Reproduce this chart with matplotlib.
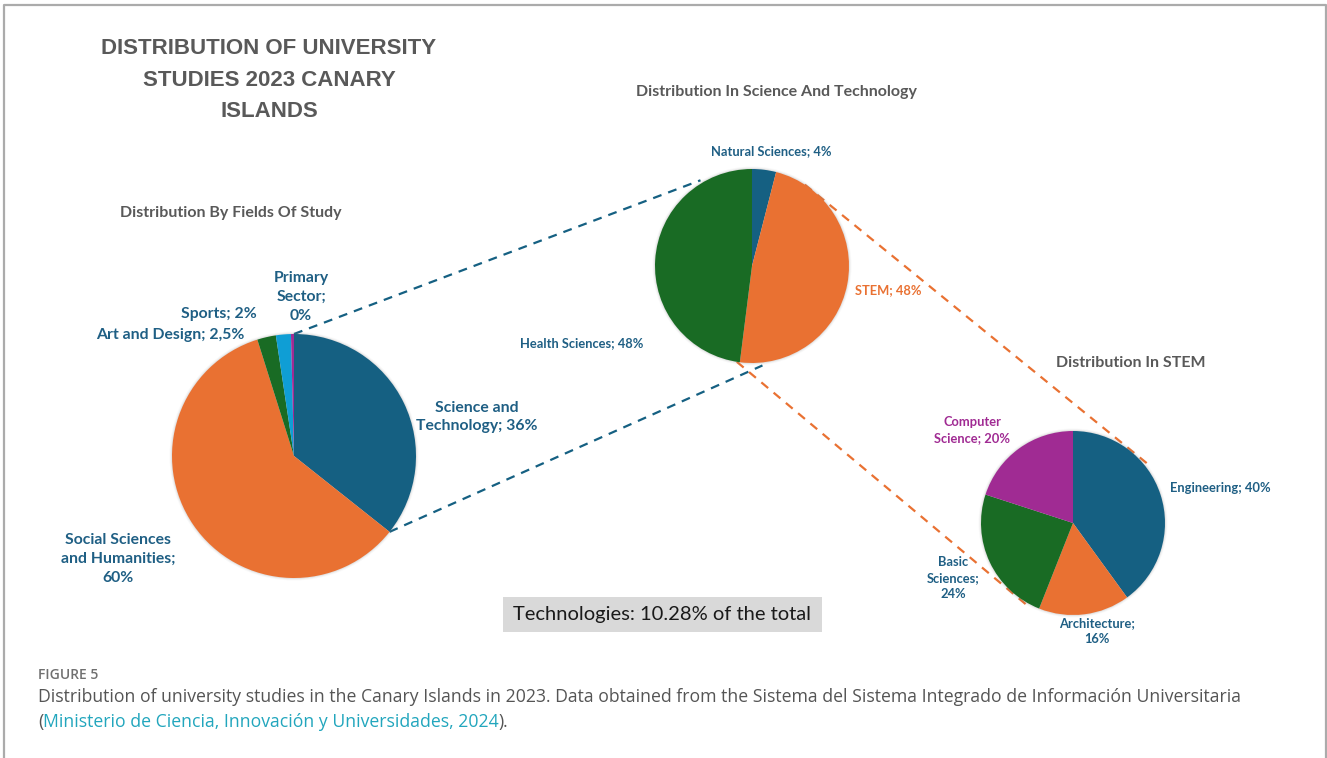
import numpy as np
import matplotlib
matplotlib.use("Agg")
import matplotlib.pyplot as plt
from matplotlib.patches import Rectangle

# ---- data ----
fields = ["Science and\nTechnology", "Social Sciences\nand Humanities", "Art and Design", "Sports", "Primary\nSector"]
fields_pct = [36, 60, 2.5, 2, 0.4]
fields_lbl = ["36%", "60%", "2,5%", "2%", "0%"]

scitech = ["Natural Sciences", "STEM", "Health Sciences"]
scitech_pct = [4, 48, 48]

stem = ["Engineering", "Architecture", "Basic\nSciences", "Computer\nScience"]
stem_pct = [40, 16, 24, 20]

tech_share = 10.28

W, H = 1327, 758
BLUE = "#156082"
ORANGE = "#E97132"
GREEN = "#196B24"
LBLUE = "#0F9ED5"
PURPLE = "#A02B93"
LABEL = "#1F5F84"
GREY = "#595959"

fig = plt.figure(figsize=(W / 100, H / 100), dpi=100)
ax = fig.add_axes([0, 0, 1, 1])


def Y(y):
    return H - y


def pt(c, r, deg):
    a = np.deg2rad(deg)
    return c[0] + r * np.cos(a), c[1] + r * np.sin(a)


# ---- pies ----
c1, r1 = (294, Y(456)), 122
c2, r2 = (752, Y(266)), 97
c3, r3 = (1073, Y(523)), 92

w1, _ = ax.pie(fields_pct, colors=[BLUE, ORANGE, GREEN, LBLUE, PURPLE], startangle=90,
               counterclock=False, center=c1, radius=r1, wedgeprops=dict(linewidth=0), frame=True)
w2, _ = ax.pie(scitech_pct, colors=[BLUE, ORANGE, GREEN], startangle=90,
               counterclock=False, center=c2, radius=r2, wedgeprops=dict(linewidth=0), frame=True)
w3, _ = ax.pie(stem_pct, colors=[BLUE, ORANGE, GREEN, PURPLE], startangle=90,
               counterclock=False, center=c3, radius=r3, wedgeprops=dict(linewidth=0), frame=True)
for w in list(w1) + list(w2) + list(w3):
    w.set_zorder(3)

# soft halo around each pie
for c, r in [(c1, r1), (c2, r2), (c3, r3)]:
    for k, a in [(2.5, 0.05), (1.5, 0.08), (0.7, 0.12)]:
        ax.add_patch(plt.Circle(c, r + k, facecolor="#808080", edgecolor="none", alpha=a, zorder=2.5))

# ---- connector lines ----
st = w1[0]
dash = dict(linestyle=(0, (4, 3.2)), linewidth=1.6, zorder=2)
for a1, a2 in [(st.theta2, 121), (st.theta1, -84)]:
    p, q = pt(c1, r1, a1), pt(c2, r2 + 3, a2)
    ax.plot([p[0], q[0]], [p[1], q[1]], color=BLUE, **dash)
for a1, a2 in [(57, 39), (-99, -117)]:
    p, q = pt(c2, r2, a1), pt(c3, r3 + 3, a2)
    ax.plot([p[0], q[0]], [p[1], q[1]], color=ORANGE, **dash)

# ---- titles ----
ax.text(269, Y(80), "DISTRIBUTION OF UNIVERSITY\nSTUDIES 2023 CANARY\nISLANDS", ha="center", va="center",
        fontsize=16, fontweight="bold", color=GREY, family="Liberation Sans", linespacing=1.68)
sub = dict(fontsize=11.5, fontweight="bold", color=GREY, family="Lato", ha="center", va="center")
ax.text(231, Y(213), "Distribution By Fields Of Study", **sub)
ax.text(777, Y(92), "Distribution In Science And Technology", **sub)
ax.text(1131, Y(363), "Distribution In STEM", **sub)

# ---- slice labels ----
big = dict(fontsize=11.3, fontweight="bold", family="Lato", ha="center", va="center", linespacing=1.42)
ax.text(477, Y(417), f"{fields[0]}; {fields_lbl[0]}", color=LABEL, **big)
ax.text(118, Y(559), f"{fields[1]};\n{fields_lbl[1]}", color=LABEL, **big)
ax.text(170, Y(335), f"{fields[2]}; {fields_lbl[2]}", color=LABEL, **big)
ax.text(219, Y(314), f"{fields[3]}; {fields_lbl[3]}", color=LABEL, **big)
ax.text(301, Y(297), f"{fields[4]};\n{fields_lbl[4]}", color=LABEL, **big)

small = dict(fontsize=9.3, fontweight="bold", family="Lato", ha="center", va="center", linespacing=1.35)
ax.text(771, Y(151), f"{scitech[0]}; {scitech_pct[0]}%", color=LABEL, **small)
ax.text(888, Y(290), f"{scitech[1]}; {scitech_pct[1]}%", color=ORANGE, **small)
ax.text(582, Y(343), f"{scitech[2]}; {scitech_pct[2]}%", color=LABEL, **small)

ax.text(1220, Y(488), f"{stem[0]}; {stem_pct[0]}%", color=LABEL, **small)
ax.text(1097, Y(631), f"{stem[1]};\n{stem_pct[1]}%", color=LABEL, **small)
ax.text(953, Y(578), f"{stem[2]};\n{stem_pct[2]}%", color=LABEL, **small)
ax.text(972, Y(430), f"{stem[3]}; {stem_pct[3]}%", color=PURPLE, **small)

# ---- note box ----
ax.add_patch(Rectangle((503, Y(632)), 319, 35, facecolor="#D9D9D9", edgecolor="none", zorder=1))
ax.text(662, Y(614.5), f"Technologies: {tech_share:.2f}% of the total", ha="center", va="center",
        fontsize=14.5, family="Lato", color="#1a1a1a", zorder=4)

# ---- caption ----
ax.text(38, Y(675), "FIGURE 5", fontsize=10, fontweight="semibold", family="Open Sans",
        color="#707070", va="center")
cap = dict(fontsize=12.7, family="Open Sans", color="#555555", va="center")
ax.text(38, Y(697), "Distribution of university studies in the Canary Islands in 2023. Data obtained from the "
        "Sistema del Sistema Integrado de Información Universitaria", **cap)
t1 = ax.text(38, Y(722), "(", **cap)
t2 = ax.annotate("Ministerio de Ciencia, Innovación y Universidades, 2024", xy=(1, 0), xycoords=t1,
                 ha="left", va="bottom", fontsize=12.7, family="Open Sans", color="#22A6BD")
ax.annotate(").", xy=(1, 0), xycoords=t2, ha="left", va="bottom", fontsize=12.7,
            family="Open Sans", color="#555555")

# ---- panel frame ----
ax.plot([3.5, 3.5, 1325.5, 1325.5], [0, Y(5), Y(5), 0], color="#ababab", linewidth=1.6, zorder=5)

ax.set_xlim(0, W)
ax.set_ylim(0, H)
ax.set_aspect("auto")
ax.axis("off")

fig.savefig("out.png", dpi=100)
